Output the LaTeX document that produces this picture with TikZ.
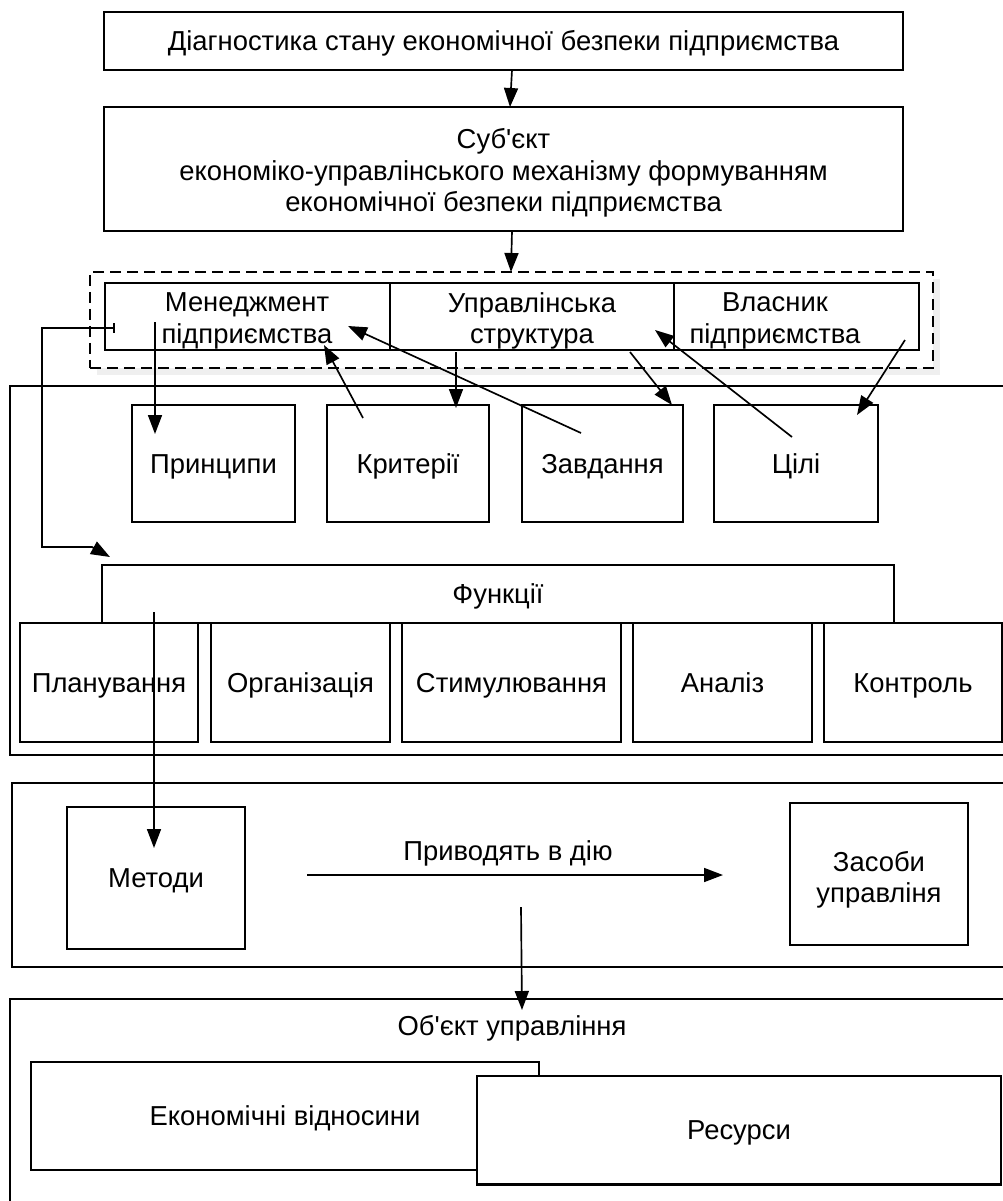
\documentclass[tikz,border=0pt]{standalone}
\usepackage{fontspec}
\setmainfont{Liberation Sans}
\newfontfamily\lsans{Liberation Sans}
\usetikzlibrary{arrows.meta,shadows}
\begin{document}
\begin{tikzpicture}[x=0.02cm,y=-0.02cm,
  every node/.style={font=\lsans\fontsize{15.6pt}{17.8pt}\selectfont},
  bx/.style={draw, line width=1.15pt, inner sep=0pt, outer sep=0pt, fill=white, align=center},
  one/.style={text height=13pt, text depth=1.83pt},
  lbl/.style={inner sep=0pt, outer sep=0pt, align=center},
  ar/.style={line width=0.95pt, -{Triangle[length=0.38cm,width=0.28cm]}},
  ln/.style={line width=0.95pt}]
\clip (0,0) rectangle (1003,1201);
\fill[white] (0,0) rectangle (1003,1201);

% panels
\node[bx, minimum width=20.4cm, minimum height=7.38cm] (funcpanel) at (520,570.5) {};
\node[bx, minimum width=20.16cm, minimum height=3.68cm] (methpanel) at (516,875) {};
\node[bx, minimum width=20.2cm, minimum height=4.62cm] (objpanel) at (515,1114.5) {};

% top boxes
\node[bx, one, minimum width=15.98cm, minimum height=1.16cm] (diag) at (503.5,41)
  {Діагностика стану економічної безпеки підприємства};
\node[bx, minimum width=15.98cm, minimum height=2.48cm] (subj) at (503.5,169) {};
\node[lbl] (subjt) at (503.5,173)
  {Суб'єкт\\економіко-управлінського механізму формуванням\\економічної безпеки підприємства};

% dashed group
\node[draw, dashed, dash pattern=on 0.22cm off 0.12cm, line width=1.1pt, fill=white,
  drop shadow={opacity=0.12, shadow xshift=4pt, shadow yshift=-4pt},
  minimum width=16.86cm, minimum height=1.92cm, inner sep=0pt] (grp) at (511.5,320) {};
\node[bx, minimum width=5.7cm, minimum height=1.34cm] (men) at (247.5,316.5) {};
\node[lbl] (ment) at (247,321) {Менеджмент\\підприємства};
\node[bx, minimum width=5.68cm, minimum height=1.34cm] (upr) at (532,316.5) {};
\node[lbl] (uprt) at (532,321) {Управлінська\\структура};
\node[bx, minimum width=4.9cm, minimum height=1.34cm] (vla) at (796.5,316.5) {};
\node[lbl] (vlat) at (775,321) {Власник\\підприємства};

% small boxes
\node[bx, one, minimum width=3.26cm, minimum height=2.34cm] (princ) at (213.5,463.5) {Принципи};
\node[bx, one, minimum width=3.24cm, minimum height=2.34cm] (krit) at (408,463.5) {Критерії};
\node[bx, one, minimum width=3.22cm, minimum height=2.34cm] (zavd) at (602.5,463.5) {Завдання};
\node[bx, one, minimum width=3.28cm, minimum height=2.34cm] (cili) at (796,463.5) {Цілі};

% functions
\node[bx, one, minimum width=15.84cm, minimum height=1.16cm] (funk) at (498,594) {Функції};
\node[bx, one, minimum width=3.56cm, minimum height=2.38cm] (plan) at (109,682.5) {Планування};
\node[bx, one, minimum width=3.58cm, minimum height=2.38cm] (org) at (300.5,682.5) {Організація};
\node[bx, one, minimum width=4.38cm, minimum height=2.38cm] (stym) at (511.5,682.5) {Стимулювання};
\node[bx, one, minimum width=3.58cm, minimum height=2.38cm] (anal) at (722.5,682.5) {Аналіз};
\node[bx, one, minimum width=3.56cm, minimum height=2.38cm] (kontr) at (913,682.5) {Контроль};

% methods
\node[bx, one, minimum width=3.56cm, minimum height=2.84cm] (metody) at (156,878) {Методи};
\node[bx, minimum width=3.56cm, minimum height=2.84cm] (zasoby) at (879,874) {};
\node[lbl] (zasobyt) at (879,880) {Засоби\\управліня};
\node[lbl, one] (pryv) at (508,851) {Приводять в дію};

% object
\node[lbl, one] (obj) at (512,1026) {Об'єкт управління};
\node[bx, one, minimum width=10.16cm, minimum height=2.16cm] (ekon) at (285,1116) {Економічні відносини};
\node[bx, one, minimum width=10.48cm, minimum height=2.18cm] (res) at (739,1130) {Ресурси};

% connector end points
\coordinate (d1) at (512,70);   \coordinate (d2) at (510,107);
\coordinate (s1) at (512,231);  \coordinate (s2) at (511,272);
\coordinate (m1) at (155,322);  \coordinate (p1) at (155,434);
\coordinate (k1) at (363,418);  \coordinate (m2) at (324,345);
\coordinate (z1) at (581,433);  \coordinate (m3) at (348,326);
\coordinate (u1) at (456,352);  \coordinate (k2) at (456,408);
\coordinate (u2) at (630,352);  \coordinate (z2) at (672,405);
\coordinate (c1) at (792,437);  \coordinate (u3) at (655,330);
\coordinate (v1) at (905,340);  \coordinate (c2) at (857,415);
\coordinate (e0) at (114,328);  \coordinate (e1) at (42,328);
\coordinate (e2) at (42,547);   \coordinate (e3) at (92,547);
\coordinate (e4) at (110,557);
\coordinate (f1) at (154,612);  \coordinate (mt) at (154,848);
\coordinate (a1) at (307,875);  \coordinate (a2) at (723,875);
\coordinate (o1) at (521,907);  \coordinate (o2) at (522,1010);

% connectors
\draw[ar] (d1) -- (d2);
\draw[ar] (s1) -- (s2);
\draw[ar] (m1) -- (p1);
\draw[ar] (k1) -- (m2);
\draw[ar] (z1) -- (m3);
\draw[ar] (u1) -- (k2);
\draw[ar] (u2) -- (z2);
\draw[ar] (c1) -- (u3);
\draw[ar] (v1) -- (c2);
\draw[ln] ([yshift=0.1cm]e0) -- ([yshift=-0.1cm]e0);
\draw[ar] (e0) -- (e1) -- (e2) -- (e3) -- (e4);
\draw[ar] (f1) -- (mt);
\draw[ar] (a1) -- (a2);
\draw[ar] (o1) -- (o2);
\end{tikzpicture}
\end{document}
